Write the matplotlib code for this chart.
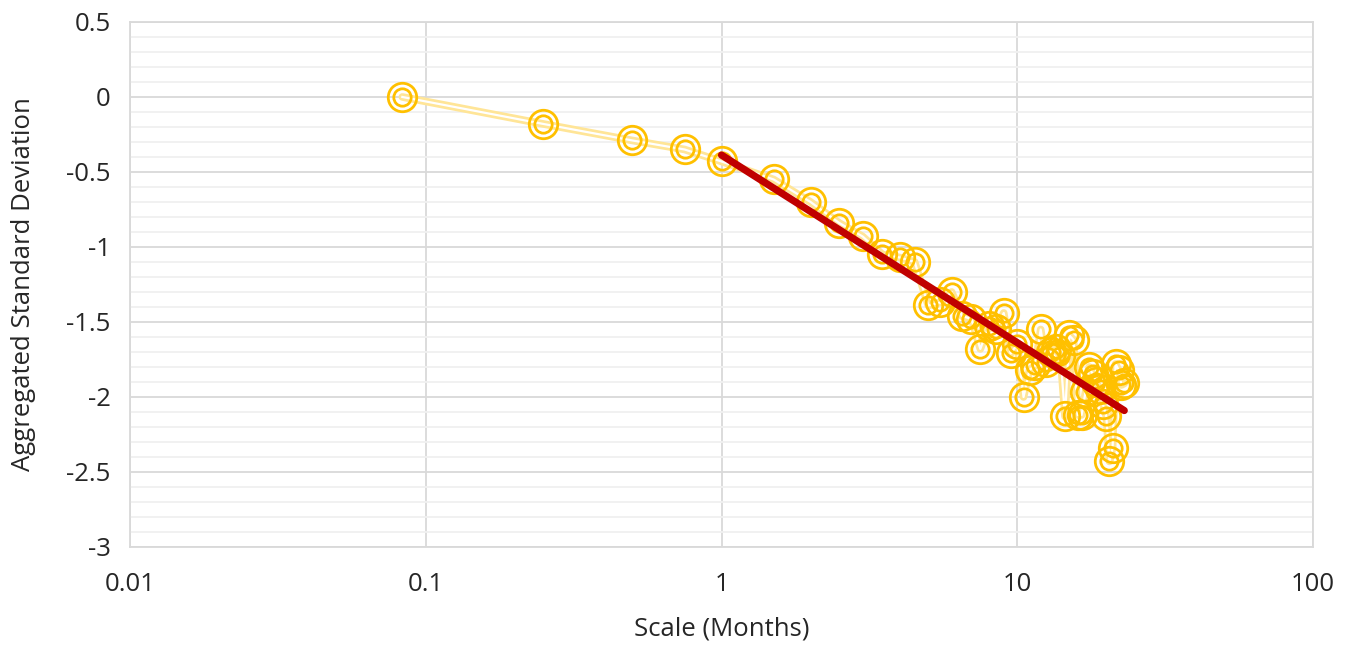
import matplotlib.pyplot as plt
import numpy as np
from matplotlib.ticker import FixedLocator, MultipleLocator, FuncFormatter

plt.rcParams['font.family'] = ['Open Sans', 'DejaVu Sans']

# scale in months and the aggregated standard deviation (log)
scale_months = [1/12, 0.25, 0.5, 0.75, 1, 1.5, 2, 2.5, 3, 3.5, 4, 4.5, 5, 5.5, 6,
                6.5, 7, 7.5, 8, 8.5, 9, 9.5, 10, 10.5, 11, 11.5, 12, 12.5, 13,
                13.5, 14, 14.5, 15, 15.5, 16, 16.5, 17, 17.5, 18, 18.5, 19,
                19.5, 20, 20.5, 21, 21.5, 22, 22.5, 23]
agg_std = [0.0, -0.18, -0.29, -0.35, -0.43, -0.55, -0.70, -0.84, -0.93, -1.05,
           -1.07, -1.10, -1.39, -1.37, -1.30, -1.46, -1.48, -1.68, -1.53, -1.55,
           -1.44, -1.71, -1.65, -2.00, -1.82, -1.79, -1.55, -1.77, -1.70, -1.68,
           -1.73, -2.13, -1.59, -1.62, -2.12, -2.12, -1.97, -1.80, -1.85, -1.90,
           -1.95, -2.05, -2.13, -2.43, -2.34, -1.78, -1.82, -1.92, -1.91]

x_ticks = [0.01, 0.1, 1, 10, 100]
x_tick_labels = ['0.01', '0.1', '1', '10', '100']

x = np.array(scale_months)
y = np.array(agg_std)

fig = plt.figure(figsize=(13.57, 6.5), dpi=100)
ax = fig.add_axes([0.0958, 0.1585, 0.8718, 0.8077])

# pale double line joining the points
ax.plot(x, y, color='#FFE597', lw=5.5, zorder=2, solid_capstyle='round')
ax.plot(x, y, color='white', lw=1.6, zorder=2.1)

# double-ring markers
ax.plot(x, y, ls='none', marker='o', ms=20.5, mfc='none', mec='#FFC000', mew=2.0, zorder=3)
ax.plot(x, y, ls='none', marker='o', ms=12.5, mfc='none', mec='#FFC000', mew=2.0, zorder=3)

# logarithmic trend over the monthly part
sel = x >= 1
slope, intercept = np.polyfit(np.log10(x[sel]), y[sel], 1)
xt = np.array([x[sel].min(), x[sel].max()])
ax.plot(xt, slope * np.log10(xt) + intercept, color='#C00000', lw=5.2,
        solid_capstyle='round', zorder=4)

ax.set_xscale('log')
ax.set_xlim(0.01, 100)
ax.set_ylim(-3, 0.5)
ax.xaxis.set_major_locator(FixedLocator(x_ticks))
ax.xaxis.set_minor_locator(FixedLocator([]))
ax.set_xticklabels(x_tick_labels)
ax.yaxis.set_major_locator(MultipleLocator(0.5))
ax.yaxis.set_minor_locator(MultipleLocator(0.1))
ax.yaxis.set_major_formatter(FuncFormatter(lambda v, p: f'{v:g}'))

ax.grid(which='major', color='#D9D9D9', lw=1.3, zorder=0)
ax.grid(which='minor', axis='y', color='#F0F0F0', lw=1.3, zorder=0)
ax.set_axisbelow(True)
for s in ax.spines.values():
    s.set_color('#D9D9D9')
    s.set_linewidth(1.3)
ax.tick_params(which='both', length=0, labelsize=18.5, colors='#262626')
ax.tick_params(axis='x', pad=18)
ax.tick_params(axis='y', pad=14)

ax.set_xlabel('Scale (Months)', fontsize=18.5, color='#262626', labelpad=14)
ax.set_ylabel('Aggregated Standard Deviation', fontsize=18.5, color='#262626', labelpad=22)

plt.savefig('out.png', dpi=100)
